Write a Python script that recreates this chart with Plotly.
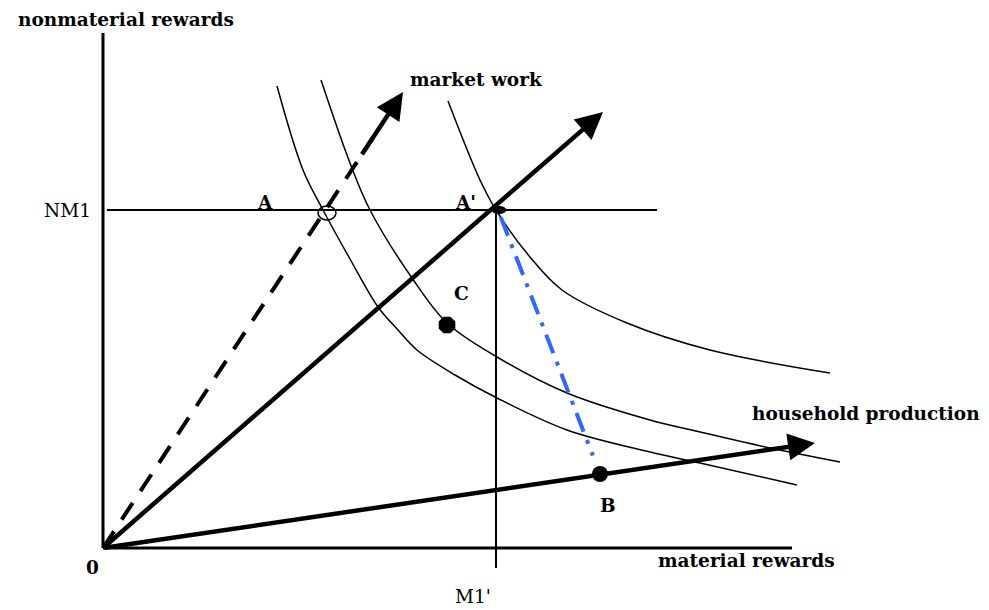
import plotly.graph_objects as go

# ---- data (diagram units; origin = 0) ----
curve1_x = [174, 200, 220, 247, 275, 295, 314, 352, 394, 464, 547, 597, 694]
curve1_y = [462, 378, 338, 289, 241, 218, 198, 173, 150, 118, 96, 85, 63]
curve2_x = [218, 247, 267, 309, 344, 394, 464, 547, 597, 667, 737]
curve2_y = [468, 385, 338, 270, 225, 191, 155, 128, 116, 100, 86]
curve3_x = [345, 377, 393, 427, 459, 524, 607, 727]
curve3_y = [447, 368, 338, 291, 258, 225, 198, 175]

origin = (0, 0)
market_tip = (300, 456)
solid_tip = (500, 436)
household_tip = (712, 105)

nm1_level = 338
m1_level = 393
x_axis_end = 689
y_axis_end = 515

point_A = (224, 335)
point_A2 = (395, 338)
point_C = (344, 223)
point_B = (497, 74)

labels = ["nonmaterial rewards", "market work", "NM1", "A", "A'", "C", "B", "0",
          "M1'", "material rewards", "household production"]
label_x = [23, 373, -36, 162, 362, 358, 505, -11, 370, 643, 763]
label_y = [529, 469, 338, 346, 346, 255, 43, -19, -48, -12, 135]
label_bold = [True, True, False, True, True, True, True, True, False, True, True]

FONT = "DejaVu Serif"
fig = go.Figure()

def line(xs, ys, width, color="black", dash=None, shape="linear"):
    fig.add_trace(go.Scatter(x=xs, y=ys, mode="lines", hoverinfo="skip",
                             line=dict(color=color, width=width, dash=dash, shape=shape)))

# axes
line([0, 0], [0, y_axis_end], 3)
line([0, x_axis_end], [0, 0], 3)
# NM1 and M1' guide lines
line([4, 554], [nm1_level, nm1_level], 2)
line([m1_level, m1_level], [nm1_level, -20], 2)

# indifference curves
for cx, cy in [(curve1_x, curve1_y), (curve2_x, curve2_y), (curve3_x, curve3_y)]:
    line(cx, cy, 1.5, shape="spline")

# dashed market-work ray
f = 0.9
line([origin[0], market_tip[0] * f], [origin[1], market_tip[1] * f], 4, dash="20px,14px")

# blue dash-dot A' -> B
t0, t1 = 0.027, 0.93
bx0 = point_A2[0] + t0 * (point_B[0] - point_A2[0])
by0 = point_A2[1] + t0 * (point_B[1] - point_A2[1])
bx1 = point_A2[0] + t1 * (point_B[0] - point_A2[0])
by1 = point_A2[1] + t1 * (point_B[1] - point_A2[1])
line([bx0, bx1], [by0, by1], 4, color="#3366ff", dash="20px,9px,4px,9px")

# arrows
def arrow(tip, tail):
    fig.add_annotation(x=tip[0], y=tip[1], ax=tail[0], ay=tail[1],
                       xref="x", yref="y", axref="x", ayref="y",
                       showarrow=True, arrowhead=2, arrowsize=1.2, arrowwidth=4.5,
                       arrowcolor="black", text="")

arrow(solid_tip, origin)
arrow(household_tip, origin)
g = 0.86
arrow(market_tip, (market_tip[0] * g, market_tip[1] * g))

# points
fig.add_shape(type="circle", xref="x", yref="y",
              x0=point_A[0] - 9, x1=point_A[0] + 9, y0=point_A[1] - 7, y1=point_A[1] + 7,
              line=dict(color="black", width=1.5))
fig.add_shape(type="circle", xref="x", yref="y",
              x0=point_A2[0] - 6, x1=point_A2[0] + 8, y0=point_A2[1] - 3.5, y1=point_A2[1] + 3.5,
              line=dict(color="black", width=1), fillcolor="black")
fig.add_trace(go.Scatter(x=[point_C[0]], y=[point_C[1]], mode="markers", hoverinfo="skip",
                         marker=dict(symbol="octagon", size=18, color="black")))
fig.add_trace(go.Scatter(x=[point_B[0]], y=[point_B[1]], mode="markers", hoverinfo="skip",
                         marker=dict(symbol="circle", size=16, color="black")))

# labels
for t, x, y, b in zip(labels, label_x, label_y, label_bold):
    fig.add_annotation(x=x, y=y, xref="x", yref="y", text=t, showarrow=False,
                       xanchor="center", yanchor="middle",
                       font=dict(family=FONT, size=18.5, color="black",
                                 weight="bold" if b else "normal"))

# page body has an 8px margin: shrink the figure by 8px and shift ranges so
# one diagram unit stays one screen pixel
fig.update_layout(
    width=981, height=602, margin=dict(l=0, r=0, t=0, b=0),
    paper_bgcolor="white", plot_bgcolor="white", showlegend=False,
    xaxis=dict(range=[-95, 886], visible=False, fixedrange=True),
    yaxis=dict(range=[-62, 540], visible=False, fixedrange=True),
)
fig.write_html("out.html")
